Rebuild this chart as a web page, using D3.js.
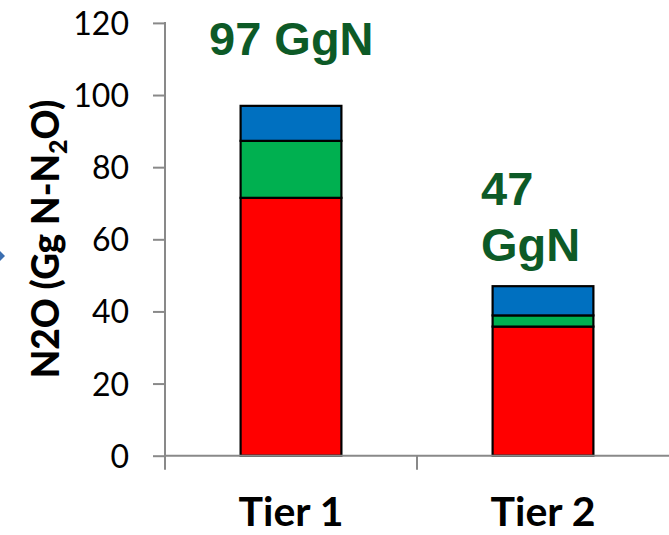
<!DOCTYPE html>
<html>
<head>
<meta charset="utf-8">
<script src="https://cdn.jsdelivr.net/npm/d3@7"></script>
<style>
  html, body { margin: 0; padding: 0; background: #fff; }
  svg { display: block; }
</style>
</head>
<body>
<svg id="chart" width="669" height="535"></svg>
<script>
// Stacked N2O emission components per estimation tier
const categories = ["Tier 1", "Tier 2"];
const seriesNames = ["red", "green", "blue"];
const redValues = [71.5, 35.8];
const greenValues = [15.8, 3.1];
const blueValues = [9.7, 8.1];
const totalLabels = [["97 GgN"], ["47", "GgN"]];
const yTicks = [0, 20, 40, 60, 80, 100, 120];

const colors = { red: "#ff0000", green: "#00b050", blue: "#0070c0" };

const rows = categories.map((c, i) => ({
  cat: c, red: redValues[i], green: greenValues[i], blue: blueValues[i]
}));

const svg = d3.select("#chart");
const plotLeft = 165, plotRight = 669, plotTop = 22.9, plotBottom = 455.7;

const x = d3.scaleBand().domain(categories).range([plotLeft, plotLeft + 2 * 252]).paddingInner(0.6).paddingOuter(0.3);
const y = d3.scaleLinear().domain([0, 120]).range([plotBottom, plotTop]);

const stack = d3.stack().keys(seriesNames)(rows);

// bars
svg.append("g").selectAll("g").data(stack).join("g")
  .attr("fill", d => colors[d.key])
  .selectAll("rect").data(d => d).join("rect")
  .attr("x", d => x(d.data.cat))
  .attr("width", x.bandwidth())
  .attr("y", d => y(d[1]))
  .attr("height", d => y(d[0]) - y(d[1]))
  .attr("stroke", "#000")
  .attr("stroke-width", 2.2);

// y axis
const yAxis = svg.append("g")
  .attr("transform", `translate(${plotLeft},0)`)
  .call(d3.axisLeft(y).tickValues(yTicks).tickSize(12).tickPadding(24));
yAxis.select(".domain").remove();
yAxis.append("line").attr("x1", 0).attr("x2", 0).attr("y1", plotTop - 1).attr("y2", plotBottom + 14)
  .attr("stroke", "#898989").attr("stroke-width", 2);
yAxis.selectAll(".tick line").attr("stroke", "#898989").attr("stroke-width", 2);
yAxis.selectAll(".tick text")
  .attr("font-family", "Lato, sans-serif").attr("font-size", 32).attr("fill", "#000")
  .attr("dy", "0.36em");

// x axis
const xAxis = svg.append("g").attr("transform", `translate(0,${plotBottom})`);
xAxis.append("line").attr("x1", plotLeft).attr("x2", plotRight).attr("y1", 0).attr("y2", 0)
  .attr("stroke", "#898989").attr("stroke-width", 2);
[plotLeft + 252].forEach(px => {
  xAxis.append("line").attr("x1", px).attr("x2", px).attr("y1", 0).attr("y2", 14)
    .attr("stroke", "#898989").attr("stroke-width", 2);
});
xAxis.selectAll("text.cat").data(categories).join("text")
  .attr("class", "cat")
  .attr("x", d => x(d) + x.bandwidth() / 2)
  .attr("y", 526 - plotBottom)
  .attr("text-anchor", "middle")
  .attr("font-family", "Lato, sans-serif").attr("font-weight", "bold").attr("font-size", 41)
  .text(d => d);

// y axis title
const title = svg.append("text")
  .attr("transform", "translate(59,239) rotate(-90)")
  .attr("text-anchor", "middle")
  .attr("font-family", "Lato, sans-serif").attr("font-weight", "900").attr("font-size", 37);
title.append("tspan").text("N2O (Gg N-N");
title.append("tspan").attr("font-size", 25).attr("dy", 8).text("2");
title.append("tspan").attr("dy", -8).text("O)");

// totals above bars
const labelPos = [{ x: 209, y: 55 }, { x: 481, y: 205 }];
totalLabels.forEach((lines, i) => {
  const t = svg.append("text")
    .attr("font-family", "'Liberation Sans', Arial, sans-serif").attr("font-weight", "bold")
    .attr("font-size", 47).attr("fill", "#0d5a27");
  lines.forEach((s, j) => {
    t.append("tspan").attr("x", labelPos[i].x).attr("y", labelPos[i].y + j * 56).text(s);
  });
});

// arrowhead tip at the left edge
svg.append("path").attr("d", "M0,251 L5,256 L0,261 Z").attr("fill", "#3b6eb0");
</script>
</body>
</html>
